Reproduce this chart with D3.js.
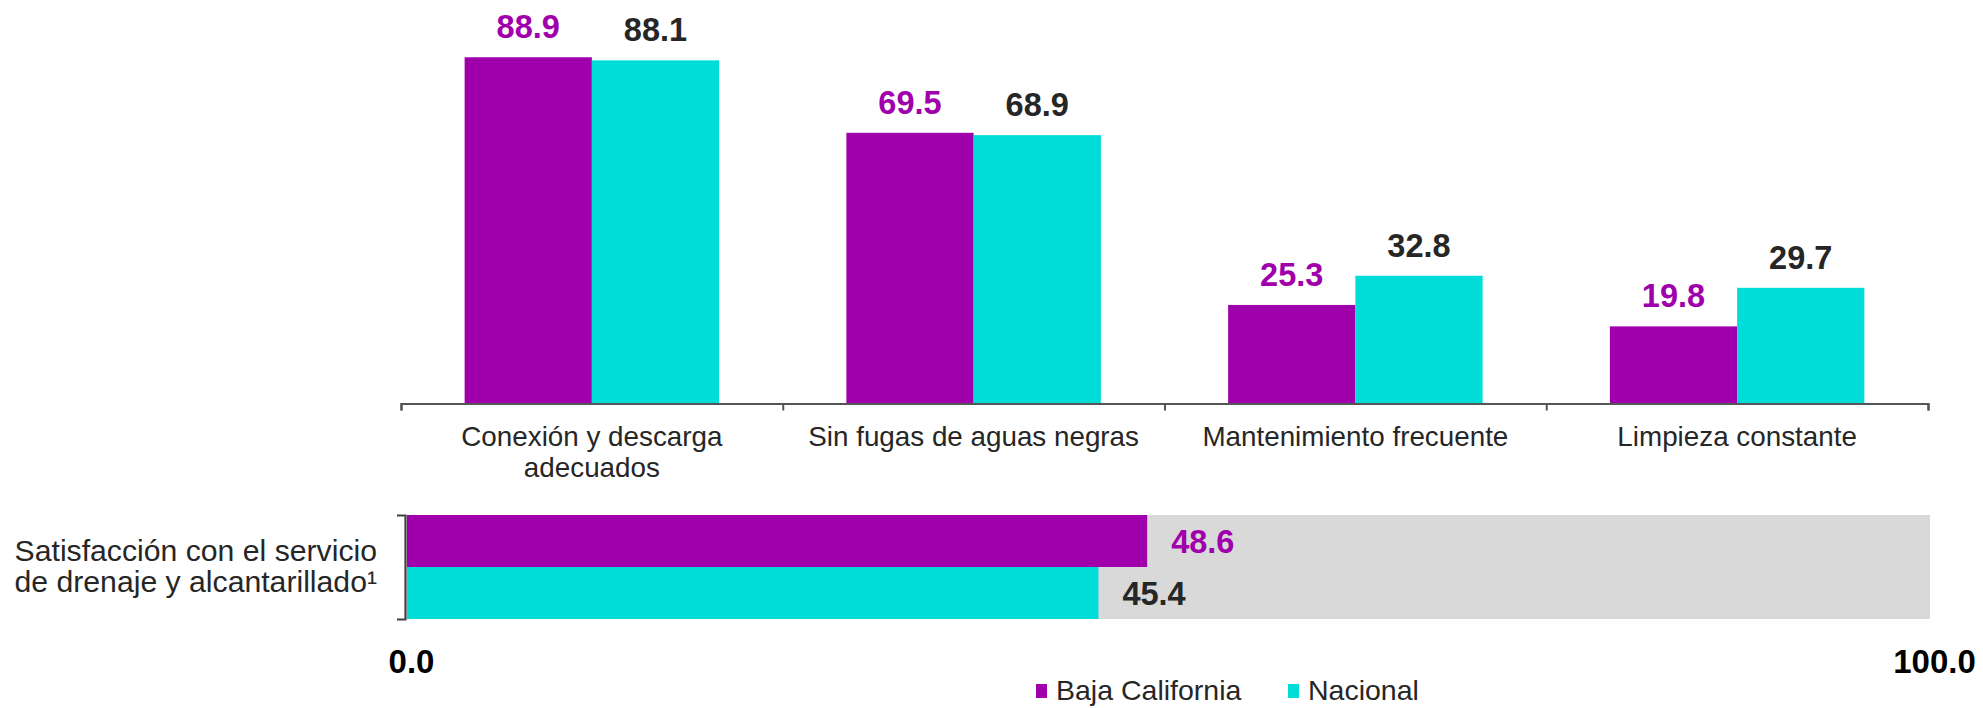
<!DOCTYPE html>
<html><head><meta charset="utf-8">
<script src="https://cdn.jsdelivr.net/npm/d3@7"></script>
<style>
html,body{margin:0;padding:0;background:#fff;}
svg{display:block;font-family:"Liberation Sans",Arial,sans-serif;}
</style></head>
<body>
<svg id="chart" width="1983" height="708"></svg>
<script>
const categories = ["Conexión y descarga\nadecuados", "Sin fugas de aguas negras", "Mantenimiento frecuente", "Limpieza constante"];
const series = ["Baja California", "Nacional"];
const bajaCalifornia = [88.9, 69.5, 25.3, 19.8];
const nacional = [88.1, 68.9, 32.8, 29.7];
const satisfLabel = ["Satisfacción con el servicio", "de drenaje y alcantarillado¹"];
const satisfValues = [48.6, 45.4];
const satisfTicks = [0, 100];

(function () {
const colors = {"Baja California": "#A000AB", "Nacional": "#00DCD8"};
const labelColors = {"Baja California": "#A000AB", "Nacional": "#262626"};

const svg = d3.select("#chart");

// ---------- Top grouped bar chart ----------
const x0 = d3.scaleBand().domain(categories).range([401, 1928]).paddingInner(0).paddingOuter(0);
const x1 = d3.scaleBand().domain(series).range([0, x0.bandwidth()]).paddingInner(0).paddingOuter(0.5);
const y = d3.scaleLinear().domain([0, 100]).range([403.5, 14]);

const seriesVals = {"Baja California": bajaCalifornia, "Nacional": nacional};
const topG = svg.append("g");

categories.forEach((c, i) => {
  const g = topG.append("g").attr("transform", `translate(${x0(c)},0)`);
  series.forEach(s => {
    const v = seriesVals[s][i];
    g.append("rect")
      .attr("x", x1(s)).attr("y", y(v))
      .attr("width", x1.bandwidth()).attr("height", y(0) - y(v))
      .attr("fill", colors[s]);
    g.append("text")
      .attr("x", x1(s) + x1.bandwidth() / 2).attr("y", y(v) - 19)
      .attr("text-anchor", "middle")
      .attr("font-size", 32.5).attr("font-weight", "bold")
      .attr("fill", labelColors[s])
      .text(v.toFixed(1));
  });
});

// axis with ticks at band boundaries
const axisG = topG.append("g").attr("transform", `translate(0,${y(0)})`);
const boundaryScale = d3.scaleLinear().domain([0, categories.length]).range(x0.range());
const axis = d3.axisBottom(boundaryScale).tickValues(d3.range(categories.length + 1)).tickSize(7).tickSizeOuter(7).tickFormat("");
axisG.call(axis);
axisG.select(".domain").attr("stroke", "#555").attr("stroke-width", 2.2);
axisG.selectAll(".tick line").attr("stroke", "#555").attr("stroke-width", 2);

// category labels
categories.forEach(c => {
  const lines = c.split("\n");
  const t = topG.append("text")
    .attr("x", x0(c) + x0.bandwidth() / 2)
    .attr("y", 446)
    .attr("text-anchor", "middle")
    .attr("font-size", 27.8).attr("fill", "#262626");
  lines.forEach((ln, k) => {
    t.append("tspan").attr("x", x0(c) + x0.bandwidth() / 2).attr("dy", k === 0 ? 0 : 31).text(ln);
  });
});

// ---------- Bottom horizontal bar ----------
const xb = d3.scaleLinear().domain([0, 100]).range([407, 1930]);
const yb = d3.scaleBand().domain(series).range([515, 619]).padding(0);
const bottomG = svg.append("g");

bottomG.append("rect")
  .attr("x", xb(0)).attr("y", yb.range()[0])
  .attr("width", xb(100) - xb(0)).attr("height", yb.range()[1] - yb.range()[0])
  .attr("fill", "#D9D9D9");

series.forEach((s, i) => {
  const v = satisfValues[i];
  bottomG.append("rect")
    .attr("x", xb(0)).attr("y", yb(s))
    .attr("width", xb(v) - xb(0)).attr("height", yb.bandwidth())
    .attr("fill", colors[s]);
  bottomG.append("text")
    .attr("x", xb(v) + 24).attr("y", yb(s) + yb.bandwidth() / 2)
    .attr("dy", "0.36em")
    .attr("font-size", 32.5).attr("font-weight", "bold")
    .attr("fill", labelColors[s])
    .text(v.toFixed(1));
});

// left bracket axis
const yAxisG = bottomG.append("g").attr("transform", `translate(405,0)`);
const bracketScale = d3.scaleLinear().domain([0, 1]).range(yb.range());
yAxisG.call(d3.axisLeft(bracketScale).tickValues([]).tickSizeOuter(8));
yAxisG.select(".domain").attr("stroke", "#404040").attr("stroke-width", 2.2);

// category label for bottom
const lt = bottomG.append("text").attr("text-anchor", "end").attr("font-size", 30.2).attr("fill", "#262626");
satisfLabel.forEach((ln, k) => {
  lt.append("tspan").attr("x", 377).attr("y", 561 + k * 31).text(ln);
});

// x tick labels 0.0 and 100.0
const xAxisG = bottomG.append("g").attr("transform", "translate(4,650)");
xAxisG.call(d3.axisBottom(xb).tickValues(satisfTicks).tickSize(0).tickFormat(d => d.toFixed(1)));
xAxisG.select(".domain").remove();
xAxisG.selectAll("text").attr("font-size", 33).attr("font-weight", "bold").attr("fill", "#000")
  .attr("font-family", '"Liberation Sans",Arial,sans-serif').attr("dy", "0.71em").attr("y", 0);

// ---------- Legend ----------
const legend = svg.append("g");
const legendX = [1036, 1288];
series.forEach((s, i) => {
  legend.append("rect").attr("x", legendX[i]).attr("y", 684).attr("width", 11).attr("height", 14).attr("fill", colors[s]);
  legend.append("text").attr("x", legendX[i] + 20).attr("y", 690).attr("dy", "0.36em")
    .attr("font-size", 28.5).attr("fill", "#262626").text(s);
});
})();
</script>
</body></html>
